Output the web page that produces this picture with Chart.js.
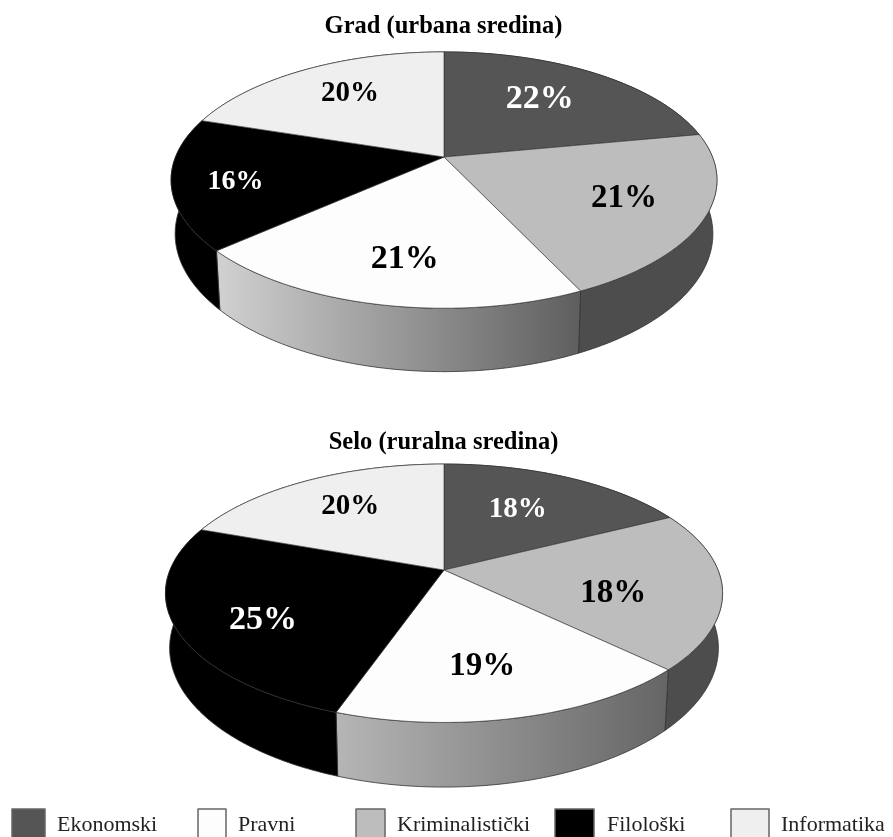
<!DOCTYPE html>
<html><head><meta charset="utf-8">
<style>html,body{margin:0;padding:0;background:#fff;overflow:hidden}
canvas{position:absolute;left:0;display:block}</style>
<script src="https://cdn.jsdelivr.net/npm/chart.js@4"></script></head>
<body>
<canvas id="grad" width="893" height="416" style="top:0"></canvas>
<canvas id="selo" width="893" height="421" style="top:416px"></canvas>
<script>
// categories in slice order (clockwise from 12 o'clock)
const categories = ["Ekonomski","Kriminalistički","Pravni","Filološki","Informatika"];
// percentages as printed on the slices
const gradPrinted = [22,21,21,16,20];
const seloPrinted = [18,18,19,25,20];
const gradShares = [22,21,20.4,16.6,20];
const seloShares = [17.5,19.8,18,25.25,19.45];
const gradTitle = "Grad (urbana sredina)";
const seloTitle = "Selo (ruralna sredina)";
const legendOrder = [0,2,1,3,4];

// styles
const FONT = '"Liberation Serif"';
const topColors = ["#555555","#bdbdbd","#fdfdfd","#000000","#efefef"];
const labelColors = ["#fff","#000","#000","#fff","#000"];
const edge = "rgba(50,50,50,0.8)";
const legendBox = [[12,33],[198,28],[356,29],[555,39],[731,38]];
const legendTextX = [57,238,397,607,781];

const gradLook = {cx:444, cy:157, R:268.5, B:124, p:0.18, D:52, shrink:0.985,
  sides:[["#444","#444"],["#4d4d4d","#4d4d4d"],["#d0d0d0","#5f5f5f"],["#000","#000"],["#ccc","#ccc"]],
  labelSizes:[34,33,34,28,29],
  nudges:[[1,-4.5],[29,5.5],[0,21.5],[-47,10.5],[-7,-8.5]]};
const seloLook = {cx:444, cy:154, R:274, B:125, p:0.18, D:53, shrink:0.985,
  sides:[["#444","#444"],["#4d4d4d","#4d4d4d"],["#b5b5b5","#666"],["#000","#000"],["#ccc","#ccc"]],
  labelSizes:[29,33,33,34,29],
  nudges:[[-7,-2.5],[4,13.5],[-13,16.5],[-27,14.5],[-5,-7.5]]};

function pie3d(look, printed, withLegend){
  const pt=(a,f,low)=>{
    const u=Math.cos(a)*f, v=Math.sin(a)*f, w=1-look.p*v;
    const s=low?look.shrink:1;
    return [look.cx+s*look.R*u/w, look.cy+(look.B*v+(low?look.D:0))/w];
  };
  const STEP=Math.PI/180;
  const trace=(ctx,a0,a1,low)=>{
    const n=Math.max(2,Math.ceil(Math.abs(a1-a0)/STEP));
    for(let i=0;i<=n;i++){const p=pt(a0+(a1-a0)*i/n,1,low);ctx.lineTo(p[0],p[1]);}
  };
  return {
    id:'pie3d',
    beforeDatasetsDraw(chart){
      const ctx=chart.ctx, arcs=chart.getDatasetMeta(0).data;
      ctx.save();
      ctx.lineJoin='round';
      // side walls
      arcs.forEach((arc,i)=>{
        const a0=arc.startAngle,a1=arc.endAngle;
        const g=ctx.createLinearGradient(Math.min(pt(a0,1,true)[0],pt(a1,1,true)[0]),0,Math.max(pt(a0,1,true)[0],pt(a1,1,true)[0]),0);
        g.addColorStop(0,look.sides[i][0]);g.addColorStop(1,look.sides[i][1]);
        ctx.beginPath();
        trace(ctx,a0,a1,false);
        trace(ctx,a1,a0,true);
        ctx.closePath();
        ctx.fillStyle=g;ctx.fill();
        ctx.strokeStyle=edge;ctx.lineWidth=1;ctx.stroke();
      });
      // top faces
      arcs.forEach((arc,i)=>{
        ctx.beginPath();
        ctx.moveTo(look.cx,look.cy);
        trace(ctx,arc.startAngle,arc.endAngle,false);
        ctx.closePath();
        ctx.fillStyle=topColors[i];ctx.fill();
        ctx.strokeStyle=edge;ctx.lineWidth=0.8;ctx.stroke();
      });
      // percentage labels
      ctx.textAlign='center';ctx.textBaseline='middle';
      let cum=0;
      printed.forEach((val,i)=>{
        const mid=-Math.PI/2+2*Math.PI*(cum+val/2)/100;
        cum+=val;
        const p=pt(mid,0.6,false);
        ctx.font='bold '+look.labelSizes[i]+'px '+FONT;
        ctx.fillStyle=labelColors[i];
        ctx.fillText(val+'%',p[0]+look.nudges[i][0],p[1]+look.nudges[i][1]);
      });
      // legend
      if(withLegend){
        ctx.textAlign='left';ctx.textBaseline='alphabetic';
        ctx.font='22px '+FONT;
        legendOrder.forEach((c,k)=>{
          ctx.fillStyle=topColors[c];
          ctx.fillRect(legendBox[k][0],393,legendBox[k][1],30);
          ctx.strokeStyle='#666';ctx.lineWidth=1.5;
          ctx.strokeRect(legendBox[k][0],393,legendBox[k][1],30);
          ctx.fillStyle='#222';
          ctx.fillText(categories[c],legendTextX[k],415);
        });
      }
      ctx.restore();
      return false;
    }
  };
}

function makePie(id,shares,printed,title,look,withLegend){
  return new Chart(document.getElementById(id),{
    type:'pie',
    data:{labels:categories,datasets:[{data:shares,radius:look.R,backgroundColor:topColors,borderWidth:0}]},
    options:{responsive:false,animation:false,events:[],layout:{padding:{right:6}},
      plugins:{legend:{display:false},tooltip:{enabled:false},
        title:{display:true,text:title,color:'#000',padding:{top:12,bottom:0},
          font:{family:FONT,size:24.5,weight:'bold',lineHeight:1.2}}}},
    plugins:[pie3d(look,printed,withLegend)]
  });
}
makePie('grad',gradShares,gradPrinted,gradTitle,gradLook,false);
makePie('selo',seloShares,seloPrinted,seloTitle,seloLook,true);
</script>
</body></html>
